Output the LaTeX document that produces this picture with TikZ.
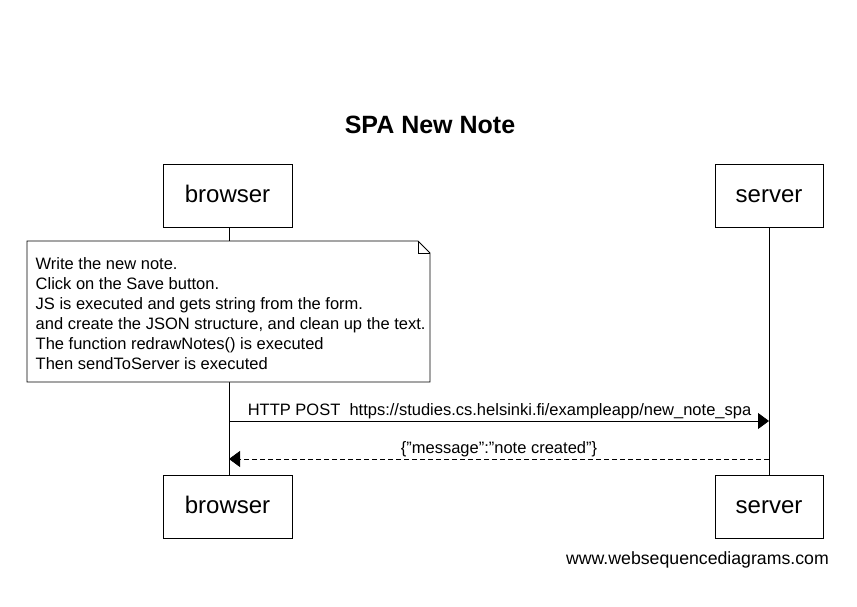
\documentclass[tikz,border=0pt]{standalone}
\usepackage{fontspec}
\setmainfont{Liberation Sans}
\usetikzlibrary{arrows.meta}
\begin{document}
\begin{tikzpicture}[x=1pt,y=-1pt,
  actor/.style={draw,line width=0.8pt,minimum width=#1,minimum height=63pt,inner sep=0pt,text height=17pt,text depth=4pt,font=\fontsize{24}{26}\selectfont},
  msg/.style={line width=0.8pt,-{Triangle[length=11pt,width=16pt]}},
  lbl/.style={font=\fontsize{16.5}{18}\selectfont,inner sep=0pt},
  lifeline/.style={line width=0.8pt}]
\useasboundingbox (0,0) rectangle (857,607);
\node[font=\bfseries\fontsize{25}{28}\selectfont] (title) at (430,125) {SPA New Note};
\node[actor=129pt] (bt) at (227.5,195.5) {browser};
\node[actor=108pt] (st) at (769,195.5) {server};
\node[actor=129pt] (bb) at (227.5,506.5) {browser};
\node[actor=108pt] (sb) at (769,506.5) {server};
\draw[lifeline] (bt.south -| 229,0) -- (bb.north -| 229,0);
\draw[lifeline] (st.south) -- (sb.north);
% note
\draw[line width=0.8pt,fill=white] (27,241) -- (418,241) -- (430,253) -- (430,382) -- (27,382) -- cycle;
\draw[line width=0.6pt] (418,241) -- (418,253) -- (430,253);
\node[anchor=north west,align=left,inner sep=0pt,font=\fontsize{16.5}{20}\selectfont] (note) at (35.5,257)
 {Write the new note.\\Click on the Save button.\\JS is executed and gets string from the form.\\and create the JSON structure, and clean up the text.\\The function redrawNotes() is executed\\Then sendToServer is executed};
\coordinate (a1s) at (229,421);
\coordinate (a1e) at (769,421);
\coordinate (a2s) at (769,459);
\coordinate (a2e) at (229,459);
\draw[msg] (a1s) -- (a1e);
\node[lbl] (l1) at (499.5,411) {HTTP POST\ \ https://studies.cs.helsinki.fi/exampleapp/new\_note\_spa};
\draw[msg,dash pattern=on 5pt off 3pt] (a2s) -- (a2e);
\node[lbl] (l2) at (499,449) {\{\char34 message\char34:\char34 note created\char34\}};
\node[anchor=east,inner sep=0pt,font=\fontsize{17.7}{20}\selectfont] (wsd) at (829,560) {www.websequencediagrams.com};
\end{tikzpicture}
\end{document}
